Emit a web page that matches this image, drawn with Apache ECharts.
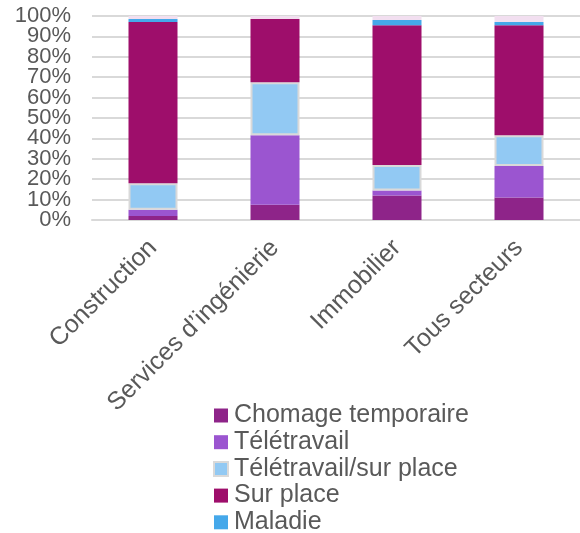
<!DOCTYPE html>
<html>
<head>
<meta charset="utf-8">
<script src="https://cdn.jsdelivr.net/npm/echarts@6/dist/echarts.min.js"></script>
<style>
  html, body { margin: 0; padding: 0; background: #fff; }
  #chart { width: 580px; height: 533px; }
</style>
</head>
<body>
<div id="chart"></div>
<script>
const categories = ["Construction", "Services d\u2019ing\u00e9nierie", "Immobilier", "Tous secteurs"];
const chomage = [2, 7.5, 12, 11];
const teletravail = [3, 34, 2.5, 15.5];
const mixte = [13, 26, 12.5, 15];
const surPlace = [79, 31, 68.5, 54];
const maladie = [1.5, 0, 2.5, 1.5];
const autre = [1.5, 1.5, 2, 3];
const yTicks = [0, 10, 20, 30, 40, 50, 60, 70, 80, 90, 100];

const legendNames = ["Chomage temporaire", "T\u00e9l\u00e9travail", "T\u00e9l\u00e9travail/sur place", "Sur place", "Maladie"];

const chart = echarts.init(document.getElementById("chart"));

function bar(name, data, color, border) {
  return {
    name: name,
    type: "bar",
    stack: "total",
    barWidth: 49,
    data: data,
    itemStyle: {
      color: color,
      borderColor: border || color,
      borderWidth: border ? 2 : 0
    },
    emphasis: { disabled: true }
  };
}

// two stacked label layers so neighbouring labels are not hidden as overlapping
function yAxisLayer(even, showGrid) {
  return {
    type: "value",
    position: "left",
    min: yTicks[0],
    max: yTicks[yTicks.length - 1],
    interval: 10,
    axisLine: { show: false },
    axisTick: { show: false },
    splitLine: { show: showGrid, lineStyle: { color: "#d9d9d9", width: 2 } },
    axisLabel: {
      formatter: function (v) {
        return ((v / 10) % 2 === 0) === even ? v + "%" : "";
      },
      fontSize: 22,
      color: "#595959",
      margin: 21
    }
  };
}

const option = {
  animation: false,
  textStyle: { fontFamily: "Liberation Sans", color: "#595959" },
  grid: { left: 92, right: -7, top: 16, bottom: 313, containLabel: false },
  legend: {
    data: legendNames,
    orient: "vertical",
    left: 213,
    top: 403,
    height: 200,
    padding: 0,
    itemWidth: 14,
    itemHeight: 14,
    itemGap: 1.7,
    icon: "rect",
    textStyle: { fontSize: 25, color: "#595959", padding: [0, 0, 0, 1] }
  },
  xAxis: {
    type: "category",
    data: categories,
    axisLine: { lineStyle: { color: "#d9d9d9", width: 2 } },
    axisTick: { show: false },
    axisLabel: { rotate: 45, fontSize: 25, color: "#595959", margin: 24, interval: 0 }
  },
  yAxis: [yAxisLayer(true, true), yAxisLayer(false, false)],
  series: [
    bar(legendNames[0], chomage, "#8e2489"),
    bar(legendNames[1], teletravail, "#9b55d0"),
    bar(legendNames[2], mixte, "#92c9f3", "#d9d9d9"),
    bar(legendNames[3], surPlace, "#9e0e6b"),
    bar(legendNames[4], maladie, "#45a8ea"),
    bar("Autre", autre, "#f2dff0")
  ]
};

chart.setOption(option);
</script>
</body>
</html>
